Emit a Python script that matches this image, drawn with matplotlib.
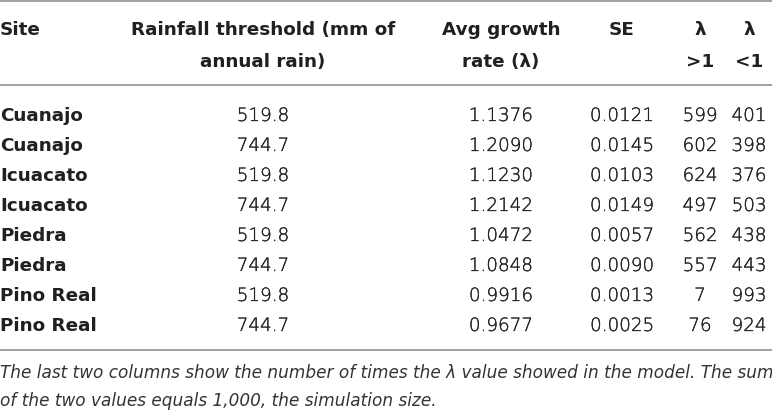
import matplotlib
matplotlib.use("Agg")
import matplotlib.pyplot as plt
import matplotlib.patheffects as pe

# table data
sites = ["Cuanajo", "Cuanajo", "Icuacato", "Icuacato",
         "Piedra", "Piedra", "Pino Real", "Pino Real"]
rain_threshold = ["519.8", "744.7", "519.8", "744.7", "519.8", "744.7", "519.8", "744.7"]
avg_growth = ["1.1376", "1.2090", "1.1230", "1.2142", "1.0472", "1.0848", "0.9916", "0.9677"]
se_values = ["0.0121", "0.0145", "0.0103", "0.0149", "0.0057", "0.0090", "0.0013", "0.0025"]
lam_gt1 = ["599", "602", "624", "497", "562", "557", "7", "76"]
lam_lt1 = ["401", "398", "376", "503", "438", "443", "993", "924"]

headers = ["Site", "Rainfall threshold (mm of\nannual rain)", "Avg growth\nrate (\u03bb)",
           "SE", "\u03bb\n>1", "\u03bb\n<1"]
caption = ["The last two columns show the number of times the \u03bb value showed in the model. The sum",
           "of the two values equals 1,000, the simulation size."]

W, H = 772, 412
fig = plt.figure(figsize=(W / 100, H / 100), dpi=100)
ax = fig.add_axes([0, 0, 1, 1])
ax.set_xlim(0, W)
ax.set_ylim(H, 0)
ax.axis("off")

FONT = "DejaVu Sans"
DARK = "#231f20"
BODY = "#222222"
RULE = "#9a9a9a"
FS = 13.2
thicken = [pe.withStroke(linewidth=0.2, foreground=BODY)]

col_x = [0, 263, 501, 622, 700, 749]
col_ha = ["left", "center", "center", "center", "center", "center"]

# rules
for y in (1, 85, 350):
    ax.plot([0, W], [y, y], color=RULE, lw=1.3, solid_capstyle="butt")

# header
for x, ha, h in zip(col_x, col_ha, headers):
    for k, line in enumerate(h.split("\n")):
        ax.text(x, 35 + k * 32, line, ha=ha, va="baseline", fontsize=FS,
                fontweight="bold", color=DARK, family=FONT)

# body rows
columns = [rain_threshold, avg_growth, se_values, lam_gt1, lam_lt1]
for i, site in enumerate(sites):
    yb = 121 + i * 30
    ax.text(0, yb, site, ha="left", va="baseline", fontsize=FS,
            fontweight="bold", color=DARK, family=FONT)
    for x, vals in zip(col_x[1:], columns):
        ax.text(x, yb, vals[i], ha="center", va="baseline", fontsize=FS,
                fontweight="light", color=BODY, family=FONT, path_effects=thicken)

# caption, sized so the first line spans the table width
cap_texts = []
for k, line in enumerate(caption):
    cap_texts.append(ax.text(0, 378 + k * 28, line, ha="left", va="baseline", fontsize=12,
                             fontstyle="italic", color="#333333", family=FONT))
fig.canvas.draw()
bb = cap_texts[0].get_window_extent()
scale = 768 / bb.width
for t in cap_texts:
    t.set_fontsize(12 * scale)

fig.savefig("out.png", dpi=100)
